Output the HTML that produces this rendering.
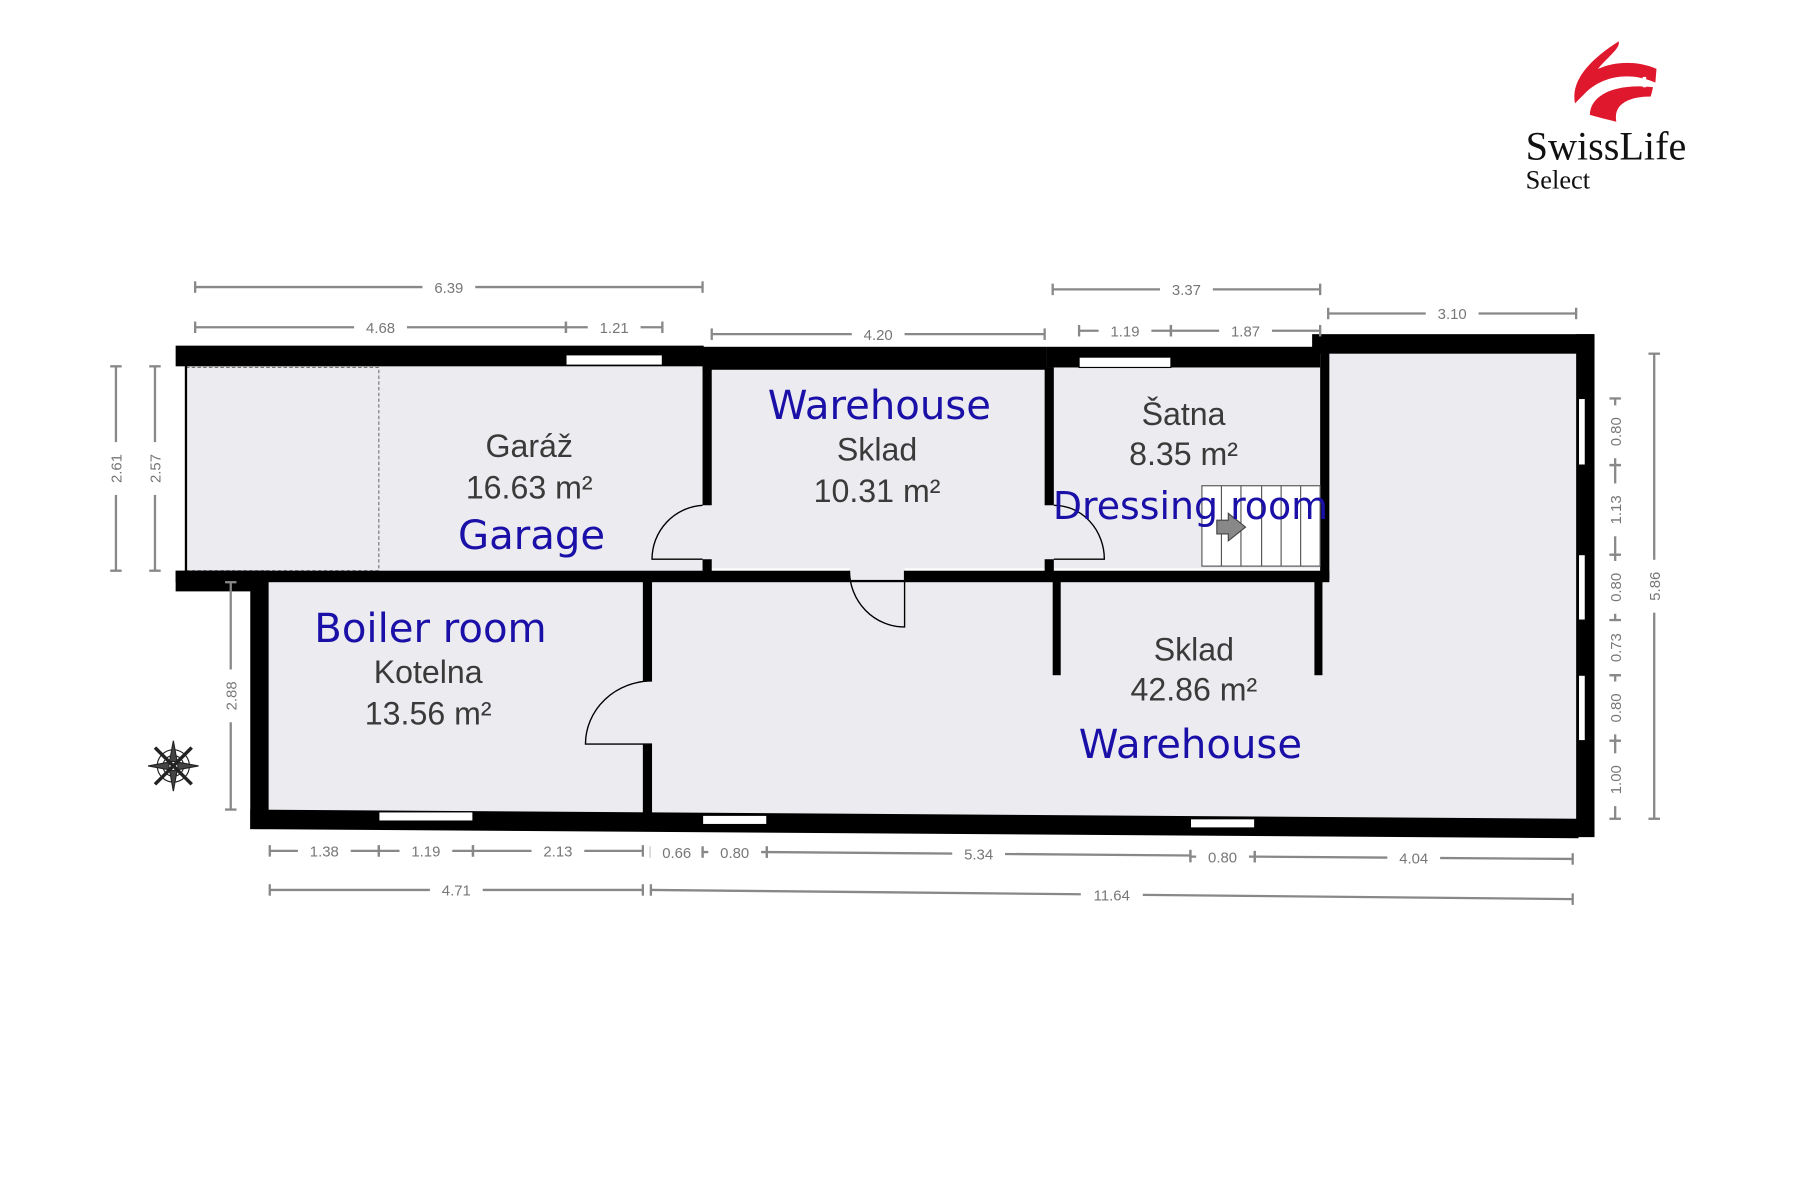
<!DOCTYPE html>
<html><head><meta charset="utf-8"><style>
html,body{margin:0;padding:0;background:#fff;width:1800px;height:1200px;overflow:hidden}
svg{display:block}
.d{font-family:"Liberation Sans",sans-serif;font-size:13px;fill:#777}
.r{font-family:"Liberation Sans",sans-serif;font-size:28px;fill:#3a3a3a;text-anchor:middle}
.b{font-family:"DejaVu Sans","Liberation Sans",sans-serif;font-size:35px;fill:#1a10a8;text-anchor:middle}
</style></head><body>
<svg id="s" width="1800" height="1200" viewBox="0 0 1568 1045" preserveAspectRatio="none" xmlns="http://www.w3.org/2000/svg">
<g fill="#ececf0">
<rect x="162" y="318" width="452" height="180"/>
<rect x="618" y="320" width="294" height="175"/>
<rect x="916" y="319" width="236" height="176"/>
<rect x="1155" y="306" width="220" height="410"/>
<rect x="232" y="503" width="332" height="205"/>
<polygon points="564,503 1375,503 1375,716 564,708"/>
</g>
<rect x="162" y="320" width="168" height="177" fill="none" stroke="#777" stroke-dasharray="3,2" stroke-width="1"/>
<line x1="162" y1="318" x2="162" y2="498" stroke="#000" stroke-width="2"/>
<g fill="#000">
<rect x="153" y="301" width="460" height="18"/>
<rect x="612" y="302" width="300" height="20"/>
<rect x="912" y="302" width="238" height="18"/>
<rect x="1143" y="291" width="246" height="17"/>
<rect x="1373" y="291" width="16" height="438"/>
<rect x="153" y="497" width="80" height="18"/>
<rect x="153" y="497" width="1005" height="10"/>
<rect x="218" y="505" width="16" height="217"/>
<polygon points="218,705 1375,713 1375,730 218,722"/>
<rect x="560" y="505" width="8" height="205"/>
<rect x="612" y="318" width="8" height="180"/>
<rect x="910" y="320" width="8" height="178"/>
<rect x="1150" y="300" width="8" height="205"/>
<rect x="917" y="505" width="7" height="83"/>
<rect x="1145" y="505" width="7" height="83"/>
</g>
<g fill="#fff" stroke="#000" stroke-width="1">
<rect x="493" y="309" width="84" height="9"/>
<rect x="940" y="311" width="80" height="9"/>
<rect x="1375" y="347" width="6" height="58"/>
<rect x="1375" y="483" width="6" height="57"/>
<rect x="1375" y="588" width="6" height="57"/>
<rect x="330" y="707" width="82" height="8"/>
<rect x="612" y="710" width="56" height="8"/>
<rect x="1037" y="713" width="56" height="8"/>
</g>
<g fill="#ececf0">
<rect x="611" y="440" width="10" height="47"/>
<rect x="909" y="440" width="10" height="47"/>
<rect x="740" y="494" width="48" height="11"/>
<rect x="559" y="593" width="10" height="55"/>
</g>
<g fill="none" stroke="#000" stroke-width="1.2">
<path d="M612,440 A47,47 0 0 0 568,487 L612,487"/>
<path d="M918,440 A44,47 0 0 1 962,487 L918,487"/>
<path d="M740,497 A48,49 0 0 0 788,546 L788,497"/>
<path d="M568,593 A58,55 0 0 0 510,648 L568,648"/>
</g>
<g fill="#fff" stroke="#555" stroke-width="1">
<rect x="1047" y="423" width="103" height="70"/>
<line x1="1064" y1="423" x2="1064" y2="493"/><line x1="1081" y1="423" x2="1081" y2="493"/><line x1="1099" y1="423" x2="1099" y2="493"/><line x1="1116" y1="423" x2="1116" y2="493"/><line x1="1133" y1="423" x2="1133" y2="493"/>
</g>
<polygon points="1060,453 1070,453 1070,447 1085,459 1070,471 1070,465 1060,465" fill="#888" stroke="#444"/>
<g transform="translate(151,667)" stroke="#222" fill="none">
<circle r="14"/><circle r="9"/>
<path d="M0,-22 L4,0 L0,22 L-4,0Z M-22,0 L0,4 L22,0 L0,-4Z" fill="#444"/>
<path d="M-16,-16 L16,16 M16,-16 L-16,16" stroke-width="3"/>
</g>
<text class="b" x="766" y="365">Warehouse</text>
<text class="r" x="764" y="401">Sklad</text>
<text class="r" x="764" y="437">10.31 m²</text>
<text class="r" x="461" y="398">Garáž</text>
<text class="r" x="461" y="434">16.63 m²</text>
<text class="b" x="463" y="478">Garage</text>
<text class="r" x="1031" y="370">Šatna</text>
<text class="r" x="1031" y="405">8.35 m²</text>
<text class="b" x="1037" y="452" style="font-size:33px">Dressing room</text>
<text class="b" x="375" y="559">Boiler room</text>
<text class="r" x="373" y="595">Kotelna</text>
<text class="r" x="373" y="631">13.56 m²</text>
<text class="r" x="1040" y="575">Sklad</text>
<text class="r" x="1040" y="610">42.86 m²</text>
<text class="b" x="1037" y="660">Warehouse</text>
<g fill="#e0182d">
<path d="M1372,90 C1368,70 1385,52 1410,36 C1412,42 1400,50 1392,60 C1410,52 1430,54 1443,60 L1442,72 C1420,62 1395,66 1380,82 Z"/>
<path d="M1385,100 C1385,84 1405,72 1440,76 L1438,84 C1420,84 1405,90 1408,106 C1400,104 1392,102 1385,100 Z"/>
</g>
<rect x="1428" y="70" width="9" height="3" fill="#fff"/><rect x="1431" y="67" width="3" height="9" fill="#fff"/>
<text x="1329" y="139" style="font-family:'Liberation Serif',serif;font-size:35px;fill:#111">SwissLife</text>
<text x="1329" y="164" style="font-family:'Liberation Serif',serif;font-size:23px;fill:#111">Select</text>
<g id="dims"></g>
</svg>
<script>
var g=document.getElementById('dims'),NS='http://www.w3.org/2000/svg';
function el(t,a){var e=document.createElementNS(NS,t);for(var k in a)e.setAttribute(k,a[k]);g.appendChild(e);return e;}
function H(x1,x2,y,t,y2){y2=y2||y;el('line',{x1:x1,y1:y,x2:x2,y2:y2,stroke:'#888','stroke-width':2});
el('line',{x1:x1,y1:y-5,x2:x1,y2:y+5,stroke:'#888','stroke-width':2});el('line',{x1:x2,y1:y2-5,x2:x2,y2:y2+5,stroke:'#888','stroke-width':2});
var cx=(x1+x2)/2,cy=(y+y2)/2;var w=t.length*8+14;el('rect',{x:cx-w/2,y:cy-8,width:w,height:16,fill:'#fff'});
var tx=el('text',{x:cx,y:cy+5,'class':'d','text-anchor':'middle'});tx.textContent=t;}
function V(x,y1,y2,t){el('line',{x1:x,y1:y1,x2:x,y2:y2,stroke:'#888','stroke-width':2});
el('line',{x1:x-5,y1:y1,x2:x+5,y2:y1,stroke:'#888','stroke-width':2});el('line',{x1:x-5,y1:y2,x2:x+5,y2:y2,stroke:'#888','stroke-width':2});
var cy=(y1+y2)/2,w=t.length*8+14;el('rect',{x:x-8,y:cy-w/2,width:16,height:w,fill:'#fff'});
var tx=el('text',{x:x,y:cy,'class':'d','text-anchor':'middle',transform:'rotate(-90 '+x+' '+cy+') translate(0 5)'});tx.textContent=t;}
H(170,612,250,'6.39');H(170,493,285,'4.68');H(493,577,285,'1.21');H(620,910,291,'4.20');
H(917,1150,252,'3.37');H(940,1020,288,'1.19');H(1020,1150,288,'1.87');H(1157,1373,273,'3.10');
H(235,330,741,'1.38');H(330,412,741,'1.19');H(412,560,741,'2.13');H(235,560,775,'4.71');
H(567,612,742,'0.66');H(612,668,742,'0.80');H(668,1037,742,'5.34',745);H(1037,1093,746,'0.80');H(1093,1370,746,'4.04',748);
H(567,1370,775,'11.64',783);
V(101,319,497,'2.61');V(135,319,497,'2.57');V(201,507,705,'2.88');V(1441,308,713,'5.86');
V(1407,347,405,'0.80');V(1407,405,483,'1.13');V(1407,483,540,'0.80');V(1407,540,588,'0.73');V(1407,588,645,'0.80');V(1407,645,713,'1.00');
</script>
</body></html>
